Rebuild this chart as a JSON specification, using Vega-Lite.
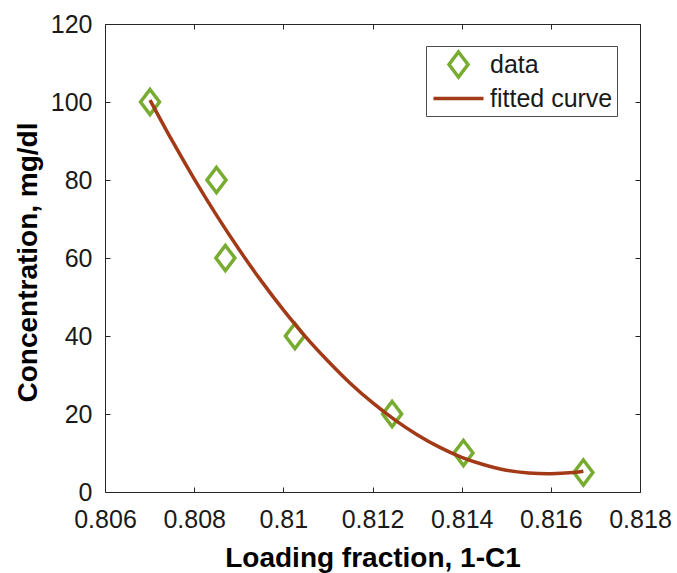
{
  "$schema": "https://vega.github.io/schema/vega-lite/v6.json",
  "width": 535,
  "height": 468,
  "autosize": "none",
  "padding": {"left": 105, "top": 24, "right": 37, "bottom": 81},
  "background": "white",
  "config": {
    "view": {"stroke": null},
    "font": "Liberation Sans",
    "axis": {
      "grid": false,
      "domainColor": "#262626",
      "domainWidth": 1,
      "tickColor": "#262626",
      "tickWidth": 1,
      "tickSize": -5,
      "labelOverlap": false,
      "labelFlush": false,
      "labelFont": "Liberation Sans",
      "labelFontSize": 25,
      "labelColor": "#1a1a1a",
      "titleFont": "Liberation Sans",
      "titleFontSize": 28,
      "titleFontWeight": "bold",
      "titleColor": "#000000"
    }
  },
  "data": {
    "values": [
      {"x": 0.80701, "y": 100, "series": "data"},
      {"x": 0.80850, "y": 80, "series": "data"},
      {"x": 0.80870, "y": 60, "series": "data"},
      {"x": 0.81026, "y": 40, "series": "data"},
      {"x": 0.81244, "y": 20, "series": "data"},
      {"x": 0.81404, "y": 10, "series": "data"},
      {"x": 0.81673, "y": 5, "series": "data"},
      {"x": 0.80701, "y": 100.5, "series": "fitted curve"},
      {"x": 0.8075, "y": 90.2, "series": "fitted curve"},
      {"x": 0.8080, "y": 80.3, "series": "fitted curve"},
      {"x": 0.8085, "y": 71.0, "series": "fitted curve"},
      {"x": 0.8090, "y": 62.3, "series": "fitted curve"},
      {"x": 0.8095, "y": 54.2, "series": "fitted curve"},
      {"x": 0.8100, "y": 46.7, "series": "fitted curve"},
      {"x": 0.8105, "y": 39.8, "series": "fitted curve"},
      {"x": 0.8110, "y": 33.6, "series": "fitted curve"},
      {"x": 0.8115, "y": 27.9, "series": "fitted curve"},
      {"x": 0.8120, "y": 22.9, "series": "fitted curve"},
      {"x": 0.8125, "y": 18.5, "series": "fitted curve"},
      {"x": 0.8130, "y": 14.7, "series": "fitted curve"},
      {"x": 0.8135, "y": 11.5, "series": "fitted curve"},
      {"x": 0.8140, "y": 8.9, "series": "fitted curve"},
      {"x": 0.8145, "y": 7.0, "series": "fitted curve"},
      {"x": 0.8150, "y": 5.6, "series": "fitted curve"},
      {"x": 0.8155, "y": 4.9, "series": "fitted curve"},
      {"x": 0.8160, "y": 4.7, "series": "fitted curve"},
      {"x": 0.8165, "y": 5.0, "series": "fitted curve"},
      {"x": 0.81673, "y": 5.3, "series": "fitted curve"}
    ]
  },
  "layer": [
    {
      "transform": [{"filter": "datum.series === 'data'"}],
      "mark": {"type": "point", "filled": false, "strokeWidth": 3.5, "size": 625, "opacity": 1},
      "encoding": {
        "x": {
          "field": "x", "type": "quantitative",
          "scale": {"domain": [0.806, 0.818], "nice": false, "zero": false},
          "axis": {
            "orient": "bottom",
            "title": "Loading fraction, 1-C1",
            "values": [0.806, 0.808, 0.81, 0.812, 0.814, 0.816, 0.818],
            "format": ".3~f",
            "labelPadding": 20,
            "titlePadding": 12
          }
        },
        "y": {
          "field": "y", "type": "quantitative",
          "scale": {"domain": [0, 120], "nice": false},
          "axis": {
            "orient": "left",
            "title": "Concentration, mg/dl",
            "values": [0, 20, 40, 60, 80, 100, 120],
            "labelPadding": 18,
            "titlePadding": 8,
            "titleY": 238
          }
        },
        "color": {
          "field": "series", "type": "nominal",
          "scale": {"domain": ["data", "fitted curve"], "range": ["#77AC30", "#A33A17"]},
          "legend": {
            "title": null,
            "orient": "none",
            "legendX": 321,
            "legendY": 22,
            "strokeColor": "#4d4d4d",
            "fillColor": "#ffffff",
            "padding": 4,
            "symbolSize": 625,
            "symbolOffset": 14,
            "symbolStrokeWidth": 3.5,
            "rowPadding": -6,
            "labelOffset": 17,
            "labelFont": "Liberation Sans",
            "labelFontSize": 25,
            "labelColor": "#1a1a1a"
          }
        },
        "shape": {
          "field": "series", "type": "nominal",
          "scale": {"domain": ["data", "fitted curve"], "range": ["M0,-1L0.76,0L0,1L-0.76,0Z", "M-2,0L2,0"]}
        }
      }
    },
    {
      "transform": [{"filter": "datum.series === 'fitted curve'"}],
      "mark": {"type": "line", "strokeWidth": 3.5, "interpolate": "natural"},
      "encoding": {
        "x": {
          "field": "x", "type": "quantitative",
          "axis": {"orient": "top", "title": null, "labels": false, "values": [0.806, 0.808, 0.81, 0.812, 0.814, 0.816, 0.818]}
        },
        "y": {
          "field": "y", "type": "quantitative",
          "axis": {"orient": "right", "title": null, "labels": false, "values": [0, 20, 40, 60, 80, 100, 120]}
        },
        "color": {"field": "series", "type": "nominal"}
      }
    }
  ],
  "resolve": {"axis": {"x": "independent", "y": "independent"}}
}
